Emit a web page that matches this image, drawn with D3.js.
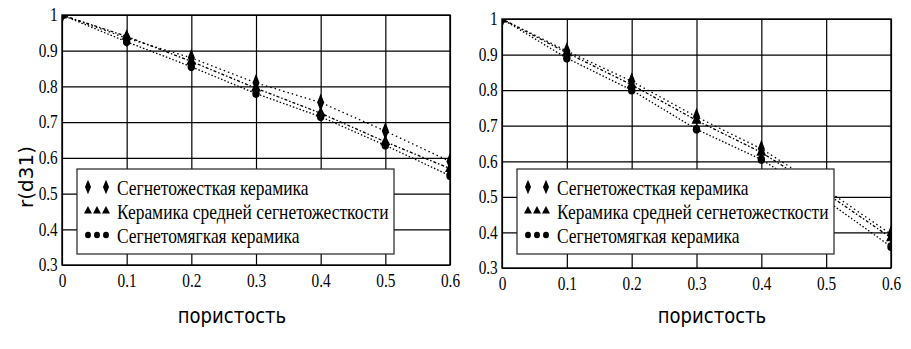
<!DOCTYPE html>
<meta charset="utf-8">
<html>
<head>
    <title>r(d31) vs porosity</title>
    <script type="text/javascript" src="https://cdn.jsdelivr.net/npm/d3@7"></script>
    <style>
        body { margin: 0; background: #fff; }
        .grid line { stroke: #000; stroke-width: 1.2; }
    </style>
</head>
<body>
    <div id="chart"></div>
    <script>

        // data
        var porosity = [0, 0.1, 0.2, 0.3, 0.4, 0.5, 0.6];

        var leftHard = [1, 0.935, 0.88, 0.81, 0.755, 0.675, 0.59];
        var leftMedium = [1, 0.94, 0.87, 0.795, 0.725, 0.645, 0.57];
        var leftSoft = [1, 0.925, 0.855, 0.78, 0.715, 0.635, 0.55];

        var rightHard = [1, 0.91, 0.825, 0.725, 0.635, 0.52, 0.395];
        var rightMedium = [1, 0.905, 0.815, 0.715, 0.625, 0.51, 0.385];
        var rightSoft = [1, 0.89, 0.80, 0.69, 0.605, 0.49, 0.36];

        var xTicks = [0, 0.1, 0.2, 0.3, 0.4, 0.5, 0.6];
        var yTicks = [0.3, 0.4, 0.5, 0.6, 0.7, 0.8, 0.9, 1];

        var seriesNames = ["Сегнетожесткая керамика",
            "Керамика средней сегнетожесткости",
            "Сегнетомягкая керамика"];
        var xTitle = "пористость";
        var yTitle = "r(d31)";

        // layout
        var width = 911, height = 349;
        var squeeze = 0.85;   // the source image is horizontally compressed
        var serif = "'Liberation Serif'";
        var sans = "'DejaVu Sans'";

        var panels = [
            { x0: 62, x1: 450, y0: 15, y1: 265, series: [leftHard, leftMedium, leftSoft],
              legend: { x: 77, y: 169, w: 317, h: 85 },
              xTitleX: 232, showYTitle: true },
            { x0: 502, x1: 891, y0: 19, y1: 268, series: [rightHard, rightMedium, rightSoft],
              legend: { x: 517, y: 169, w: 317, h: 85 },
              xTitleX: 712, showYTitle: false }
        ];

        var symbols = [d3.symbolDiamond, d3.symbolTriangle, d3.symbolCircle];
        var symbolSizes = [60, 60, 60];
        var dashes = ["1.5,3", "3,2,1.5,2", "1.5,2"];

        var svg = d3.select("#chart").append("svg")
            .attr("width", width)
            .attr("height", height);

        svg.append("rect").attr("width", width).attr("height", height).attr("fill", "#fff");

        panels.forEach(function (p, pi) {
            var x = d3.scaleLinear().domain([0, 0.6]).range([p.x0, p.x1]);
            var y = d3.scaleLinear().domain([0.3, 1]).range([p.y1, p.y0]);

            var g = svg.append("g");

            // grid + tick labels
            var yAxis = d3.axisLeft(y).tickValues(yTicks).tickFormat(d => String(d))
                .tickSizeInner(-(p.x1 - p.x0)).tickSizeOuter(0).tickPadding(5);
            var xAxis = d3.axisBottom(x).tickValues(xTicks).tickFormat(d => String(d))
                .tickSizeInner(-(p.y1 - p.y0)).tickSizeOuter(0).tickPadding(9);

            var gy = g.append("g").attr("class", "grid")
                .attr("transform", "translate(" + p.x0 + ",0)")
                .call(yAxis);
            var gx = g.append("g").attr("class", "grid")
                .attr("transform", "translate(0," + p.y1 + ")")
                .call(xAxis);
            [gy, gx].forEach(function (ax) {
                ax.select(".domain").remove();
                ax.attr("font-family", null).attr("font-size", null);
                ax.selectAll(".tick text")
                    .style("font-family", serif)
                    .style("font-size", "18px")
                    .attr("fill", "#000")
                    .attr("transform", "scale(" + squeeze + ",1)");
            });

            // frame
            g.append("rect")
                .attr("x", p.x0).attr("y", p.y0)
                .attr("width", p.x1 - p.x0).attr("height", p.y1 - p.y0)
                .attr("fill", "none").attr("stroke", "#000").attr("stroke-width", 1.4);

            // clip for data
            var clipId = "clip" + pi;
            svg.append("clipPath").attr("id", clipId)
                .append("rect")
                .attr("x", p.x0).attr("y", p.y0)
                .attr("width", p.x1 - p.x0).attr("height", p.y1 - p.y0);

            var data = g.append("g").attr("clip-path", "url(#" + clipId + ")");

            var line = d3.line()
                .x(function (d, i) { return x(porosity[i]); })
                .y(function (d) { return y(d); });

            p.series.forEach(function (s, si) {
                data.append("path")
                    .datum(s)
                    .attr("d", line)
                    .attr("fill", "none")
                    .attr("stroke", "#000")
                    .attr("stroke-width", 1.3)
                    .attr("stroke-dasharray", dashes[si]);
            });

            p.series.forEach(function (s, si) {
                data.selectAll(".m" + si)
                    .data(s)
                    .enter()
                    .append("path")
                    .attr("class", "m" + si)
                    .attr("d", d3.symbol().type(symbols[si]).size(symbolSizes[si]))
                    .attr("transform", function (d, i) {
                        var sy = si === 0 ? 1.25 : 1;
                        return "translate(" + x(porosity[i]) + "," + y(d) + ") scale(" + squeeze + "," + sy + ")";
                    })
                    .attr("fill", "#000");
            });

            // legend
            var L = p.legend;
            var lg = g.append("g").attr("class", "legend");
            lg.append("rect")
                .attr("x", L.x).attr("y", L.y)
                .attr("width", L.w).attr("height", L.h)
                .attr("fill", "#fff").attr("stroke", "#222").attr("stroke-width", 1.2);

            seriesNames.forEach(function (name, si) {
                var base = L.y + 26 + si * 24;
                var offsets = si === 0 ? [11, 29] : [11, 20, 29];
                offsets.forEach(function (o) {
                    lg.append("path")
                        .attr("d", d3.symbol().type(symbols[si]).size(si === 0 ? 40 : 34))
                        .attr("transform", "translate(" + (L.x + o) + "," + (base - 8) + ") scale(0.9," + (si === 0 ? 1.25 : 1) + ")")
                        .attr("fill", "#000");
                });
                lg.append("text")
                    .attr("transform", "translate(" + (L.x + 40) + "," + base + ") scale(0.83,1)")
                    .style("font-family", serif)
                    .style("font-size", "21px")
                    .attr("fill", "#000")
                    .text(name);
            });

            // axis titles
            g.append("text")
                .attr("transform", "translate(" + p.xTitleX + ",323) scale(0.82,1)")
                .attr("text-anchor", "middle")
                .style("font-family", sans)
                .style("font-size", "22px")
                .text(xTitle);

            if (p.showYTitle) {
                g.append("text")
                    .attr("transform", "translate(33,177) rotate(-90)")
                    .attr("text-anchor", "middle")
                    .style("font-family", sans)
                    .style("font-size", "20px")
                    .text(yTitle);
            }
        });

    </script>
</body>
</html>
